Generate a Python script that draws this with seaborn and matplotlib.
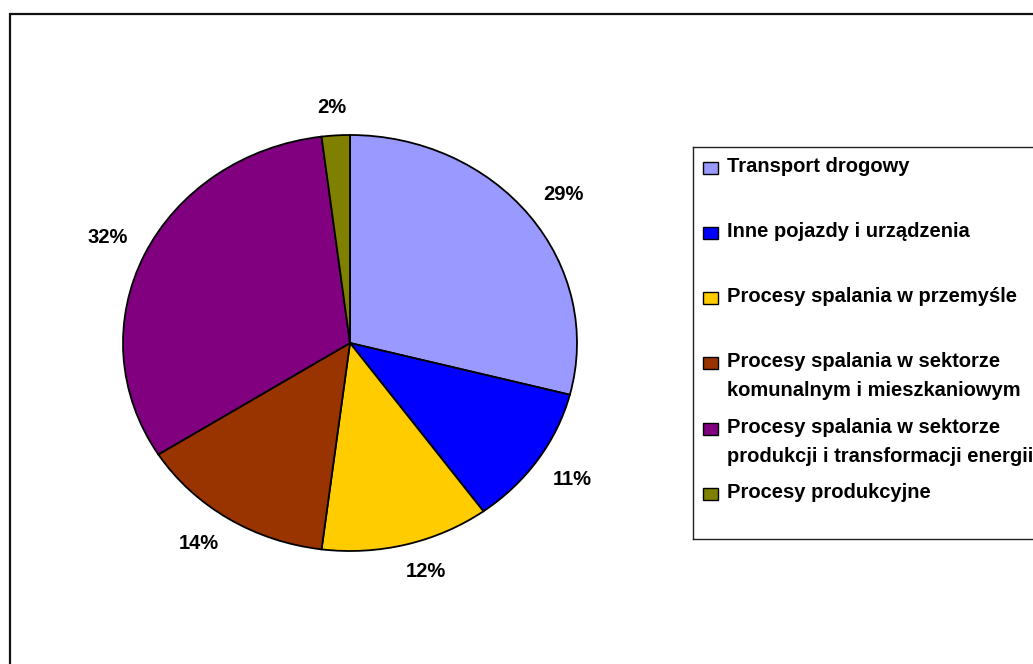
import matplotlib
matplotlib.use("Agg")
import matplotlib.pyplot as plt
from matplotlib.patches import Rectangle
import numpy as np
import seaborn as sns

# Emission sources and their shares (%)
categories = [
    "Transport drogowy",
    "Inne pojazdy i urządzenia",
    "Procesy spalania w przemyśle",
    "Procesy spalania w sektorze\nkomunalnym i mieszkaniowym",
    "Procesy spalania w sektorze\nprodukcji i transformacji energii",
    "Procesy produkcyjne",
]
shares = [29, 11, 12, 14, 32, 2]
colors = ["#9999FF", "#0000FF", "#FFCC00", "#993300", "#800080", "#808000"]

sns.set_theme(style="white")
plt.rcParams["font.family"] = ["Liberation Sans", "DejaVu Sans"]
plt.rcParams["font.weight"] = "bold"

W, H = 1033, 664
fig = plt.figure(figsize=(W / 100, H / 100), dpi=100)
fig.patch.set_facecolor("white")


def fx(px):
    return px / W


def fy(py):
    return 1 - py / H


# outer chart-area frame
fig.add_artist(Rectangle((fx(10), fy(700)), fx(1100), 686 / H,
                         transform=fig.transFigure, fill=False,
                         edgecolor="#111111", linewidth=1.6))

# pie plot area
ax = fig.add_axes([fx(123), fy(551), fx(577) - fx(123), (551 - 135) / H])
wedges, texts, autotexts = ax.pie(
    shares,
    colors=colors,
    startangle=90,
    counterclock=False,
    autopct="%1.0f%%",
    pctdistance=1.17,
    wedgeprops=dict(edgecolor="black", linewidth=1.3),
    textprops=dict(fontsize=14.5, fontweight="bold", color="black"),
)
ax.set_aspect("auto")
ax.set_xlim(-1, 1)
ax.set_ylim(-1, 1)
ax.axis("off")

# place each percentage just outside the rim, its nearest corner facing the pie
renderer = fig.canvas.get_renderer()
gap = 18
for w, t in zip(wedges, autotexts):
    ang = np.deg2rad((w.theta1 + w.theta2) / 2)
    c, s = np.cos(ang), np.sin(ang)
    ex, ey = ax.transData.transform((c, s))
    bb = t.get_window_extent(renderer)
    hw, hh = bb.width / 2, bb.height / 2
    cx = ex + gap * c + hw * np.clip(3 * c, -1, 1)
    cy = ey + gap * s + hh * np.clip(3 * s, -1, 1)
    t.set_position(ax.transData.inverted().transform((cx, cy)))
    t.set_ha("center")
    t.set_va("center")

# legend panel
lx0, ly0, ly1 = 693, 147, 539
lax = fig.add_axes([fx(lx0), fy(ly1), fx(1100 - lx0), (ly1 - ly0) / H])
lax.set_xlim(lx0, 1100)
lax.set_ylim(ly1, ly0)
lax.set_xticks([])
lax.set_yticks([])
for sp in lax.spines.values():
    sp.set_edgecolor("#222222")
    sp.set_linewidth(1.0)

baselines = [172, 237, 302, 367, 433, 498]
line_step = 29
for label, col, yb in zip(categories, colors, baselines):
    lax.add_patch(Rectangle((703, yb - 10), 15, 12, facecolor=col,
                            edgecolor="black", linewidth=1.0))
    for i, line in enumerate(label.split("\n")):
        lax.text(727, yb + i * line_step, line, fontsize=14.5,
                 fontweight="bold", color="black", ha="left", va="baseline")

fig.savefig("out.png", dpi=100, facecolor="white")
